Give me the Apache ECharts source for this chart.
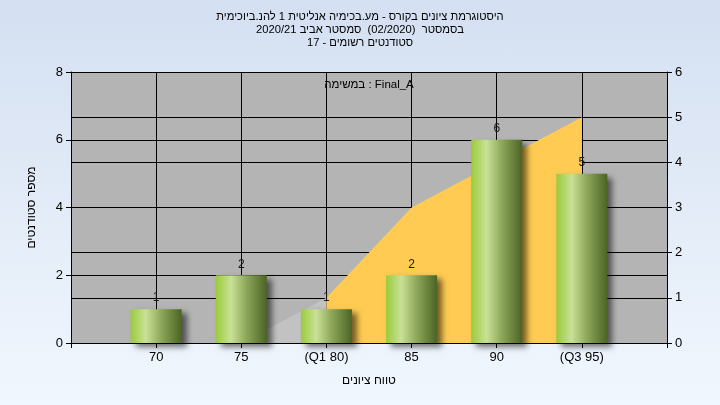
<!DOCTYPE html>
<html><head><meta charset="utf-8">
<script src="https://cdn.jsdelivr.net/npm/echarts@6/dist/echarts.min.js"></script>
<style>
html,body{margin:0;padding:0;}
body{width:720px;height:405px;background:linear-gradient(to bottom,#D4E0F2 0%,#E2EBF7 50%,#F1F7FE 100%);}
#c{width:720px;height:405px;}
</style>
</head><body><div id="c"></div>
<script>
const titleLines = [
  'היסטוגרמת ציונים בקורס - מע.בכימיה אנליטית 1 להנ.ביוכימית',
  'בסמסטר  (02/2020)  סמסטר אביב 2020/21',
  'סטודנטים רשומים - 17'
];
const annotationText = 'במשימה : Final_A';
const xAxisName = 'טווח ציונים';
const yAxisName = 'מספר סטודנטים';
const categories = ['', '70', '75', '(Q1 80)', '85', '90', '(Q3 95)', ''];
const studentCounts = [null, 1, 2, 1, 2, 6, 5, null];
const belowQ1Curve = [null, 0, 0, 1, null, null, null, null];
const q1ToQ3Curve = [null, null, null, 1, 3, 4, 5, null];
const leftAxisMin = 0, leftAxisMax = 8, leftAxisStep = 2;
const rightAxisMin = 0, rightAxisMax = 6, rightAxisStep = 1;

const FONT = "'Liberation Sans', 'DejaVu Sans', sans-serif";
const chart = echarts.init(document.getElementById('c'), null, {renderer: 'canvas'});
const axisCommon = {
  axisLine: {show: true, lineStyle: {color: '#000', width: 1}},
  axisTick: {show: true, length: 5, lineStyle: {color: '#000'}},
  axisLabel: {color: '#000', fontSize: 13, fontFamily: FONT, margin: 8},
  splitLine: {show: true, lineStyle: {color: '#000', width: 1}}
};
chart.setOption({
  backgroundColor: 'transparent',
  animation: false,
  title: {
    text: titleLines.join('\n'),
    left: 'center', top: 5,
    textStyle: {fontSize: 11.2, fontWeight: 'normal', color: '#000', fontFamily: FONT, lineHeight: 13}
  },
  graphic: [{
    type: 'text', x: 369, y: 85,
    style: {text: annotationText, fill: '#000', font: '11.5px ' + FONT, textAlign: 'center', textVerticalAlign: 'middle'},
    z: 100
  }],
  grid: {left: 71, right: 53, top: 72, bottom: 62, show: true, backgroundColor: '#B4B4B4', borderWidth: 0},
  xAxis: Object.assign({}, axisCommon, {
    type: 'category', data: categories, boundaryGap: false,
    name: xAxisName, nameLocation: 'middle', nameGap: 32,
    nameTextStyle: {fontSize: 12, color: '#000', fontFamily: FONT},
    axisTick: {show: true, length: 5, alignWithLabel: true, lineStyle: {color: '#000'}},
    axisLabel: {color: '#000', fontSize: 13, fontFamily: FONT, margin: 8, interval: 0}
  }),
  yAxis: [
    Object.assign({}, axisCommon, {
      type: 'value', position: 'left', min: leftAxisMin, max: leftAxisMax, interval: leftAxisStep,
      name: yAxisName, nameLocation: 'middle', nameGap: 33, nameRotate: 90,
      nameTextStyle: {fontSize: 12, color: '#000', fontFamily: FONT}
    }),
    Object.assign({}, axisCommon, {
      type: 'value', position: 'right', min: rightAxisMin, max: rightAxisMax, interval: rightAxisStep
    })
  ],
  series: [
    {
      type: 'line', yAxisIndex: 1, data: belowQ1Curve, showSymbol: false, symbol: 'none',
      lineStyle: {width: 0, opacity: 0}, areaStyle: {color: '#C2C2C2', opacity: 1}, z: 1, silent: true
    },
    {
      type: 'line', yAxisIndex: 1, data: q1ToQ3Curve, showSymbol: false, symbol: 'none',
      lineStyle: {width: 0, opacity: 0}, areaStyle: {color: '#FFCB52', opacity: 1}, z: 2, silent: true
    },
    {
      type: 'bar', yAxisIndex: 0, data: studentCounts, barWidth: 51, z: 5,
      itemStyle: {
        color: new echarts.graphic.LinearGradient(0, 0, 1, 0, [
          {offset: 0, color: '#9BCB3A'},
          {offset: 0.3, color: '#C9E197'},
          {offset: 0.6, color: '#8DA75A'},
          {offset: 1, color: '#4B6424'}
        ]),
        shadowColor: 'rgba(0,0,0,0.55)', shadowBlur: 6, shadowOffsetX: 5, shadowOffsetY: 4
      },
      label: {show: true, position: 'top', distance: 5, color: '#1a1a1a', fontSize: 12, fontFamily: FONT}
    }
  ]
});
</script>
</body></html>
